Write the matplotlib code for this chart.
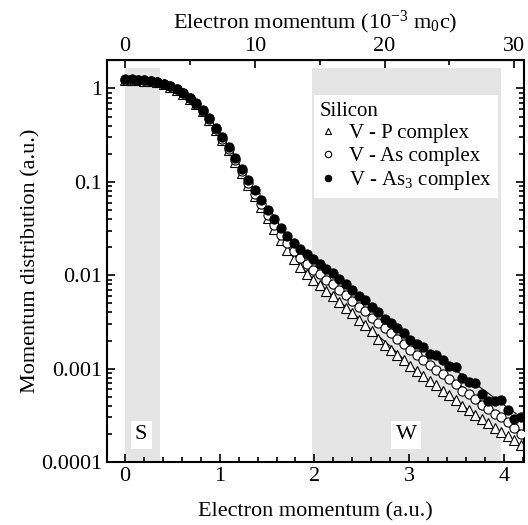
import numpy as np
import matplotlib
matplotlib.use('Agg')
import matplotlib.pyplot as plt
from matplotlib.ticker import LogLocator, NullFormatter, FixedLocator

plt.rcParams['font.family'] = ['Liberation Serif', 'DejaVu Serif']
plt.rcParams['mathtext.default'] = 'regular'

# momentum grid in units of 10^-3 m0c, converted to atomic units for the bottom axis
AU_PER_MC = 7.297  # 1 a.u. = 7.297 x 10^-3 m0c
p_mc = np.arange(0, 31, 0.5)
p_au = p_mc / AU_PER_MC

# V - As3 complex (filled circles)
v_as3 = [1.25, 1.25, 1.24, 1.23, 1.21, 1.18, 1.13, 1.07, 0.99, 0.90,
         0.80, 0.70, 0.59, 0.48, 0.38, 0.30, 0.235, 0.180, 0.138, 0.105,
         0.082, 0.064, 0.050, 0.040, 0.032, 0.0265, 0.0223, 0.0192, 0.0167, 0.0148,
         0.0132, 0.0118, 0.0105, 0.0092, 0.0080, 0.0069, 0.0060, 0.0054, 0.0046, 0.0040,
         0.0034, 0.0031, 0.0027, 0.0024, 0.00205, 0.00183, 0.00171, 0.00142, 0.00139, 0.00124,
         0.00106, 0.00103, 0.00080, 0.00072, 0.00070, 0.00053, 0.00045, 0.00045, 0.00046, 0.00036,
         0.00029, 0.00030]

# V - As complex (open circles)
v_as = [1.24, 1.24, 1.23, 1.22, 1.20, 1.17, 1.12, 1.06, 0.98, 0.89,
        0.79, 0.69, 0.58, 0.47, 0.37, 0.29, 0.226, 0.171, 0.130, 0.098,
        0.075, 0.058, 0.0445, 0.0348, 0.0272, 0.0220, 0.0181, 0.0154, 0.0132, 0.0115,
        0.0102, 0.0090, 0.0080, 0.0070, 0.0061, 0.0053, 0.0046, 0.0041, 0.0035, 0.0031,
        0.0027, 0.0024, 0.0021, 0.00183, 0.00160, 0.00141, 0.00124, 0.00109, 0.00097, 0.00087,
        0.00077, 0.00068, 0.00058, 0.00053, 0.00047, 0.00041, 0.00037, 0.00033, 0.00030, 0.00027,
        0.00023, 0.00020]

# V - P complex (open triangles)
v_p = [1.23, 1.23, 1.22, 1.21, 1.19, 1.16, 1.11, 1.05, 0.97, 0.88,
       0.78, 0.69, 0.57, 0.46, 0.36, 0.28, 0.218, 0.165, 0.124, 0.093,
       0.071, 0.054, 0.041, 0.031, 0.0238, 0.0188, 0.0150, 0.0124, 0.0104, 0.0089,
       0.0078, 0.0068, 0.0060, 0.0052, 0.0045, 0.0039, 0.0033, 0.0029, 0.0025, 0.0021,
       0.0018, 0.00160, 0.00140, 0.00123, 0.00107, 0.00094, 0.00083, 0.00074, 0.00066, 0.00058,
       0.00052, 0.00046, 0.00040, 0.00036, 0.00032, 0.00029, 0.00026, 0.00023, 0.00021, 0.00019,
       0.00017, 0.000152]

# calculated curves
calc_x = [0.0, 0.2, 0.4, 0.6, 0.8, 1.0, 1.2, 1.4, 1.6, 1.8, 2.0,
          2.2, 2.4, 2.6, 2.8, 3.0, 3.2, 3.4, 3.6, 3.8, 4.0, 4.25]
calc_as3 = [1.25, 1.23, 1.14, 0.93, 0.62, 0.33, 0.155, 0.072, 0.037, 0.0215, 0.0145,
            0.0103, 0.0071, 0.0047, 0.0031, 0.0021, 0.00148, 0.00110, 0.00081, 0.00058, 0.00041, 0.00027]
calc_as = [1.24, 1.22, 1.13, 0.92, 0.61, 0.32, 0.147, 0.066, 0.032, 0.0175, 0.0112,
           0.0079, 0.0054, 0.0036, 0.0024, 0.00162, 0.00113, 0.00083, 0.00060, 0.00042, 0.00030, 0.00019]
calc_p = [1.23, 1.21, 1.12, 0.91, 0.60, 0.31, 0.140, 0.061, 0.028, 0.0145, 0.0087,
          0.0060, 0.0040, 0.0026, 0.00175, 0.00110, 0.00076, 0.00054, 0.00038, 0.00027, 0.00019, 0.000138]

# tick positions
au_major = [0, 1, 2, 3, 4]
au_minor = [0.2, 0.4, 0.6, 0.8, 1.2, 1.4, 1.6, 1.8, 2.2, 2.4, 2.6, 2.8,
            3.2, 3.4, 3.6, 3.8, 4.2]
mc_major = [0, 10, 20, 30]
mc_minor = [5, 15, 25]
y_major = [1e-4, 1e-3, 1e-2, 1e-1, 1]
y_labels = ['0.0001', '0.001', '0.01', '0.1', '1']

fig = plt.figure(figsize=(5.28, 5.25), dpi=100)
ax = fig.add_axes([0.2027, 0.12, 0.789, 0.765])

# S and W integration windows
shade = '#e5e5e5'
ax.axvspan(0.0, 0.37, ymin=0, ymax=0.98, color=shade, lw=0, zorder=0)
ax.axvspan(1.98, 3.97, ymin=0, ymax=0.98, color=shade, lw=0, zorder=0)

for yc in (calc_p, calc_as, calc_as3):
    ax.plot(calc_x, yc, color='k', lw=0.8, zorder=1)

ms = 6.6
ax.plot(p_au, v_p, ls='none', marker='^', ms=ms, mfc='white', mec='k', mew=0.8,
        label='V - P complex', zorder=2)
ax.plot(p_au, v_as, ls='none', marker='o', ms=ms, mfc='white', mec='k', mew=0.8,
        label='V - As complex', zorder=3)
ax.plot(p_au, v_as3, ls='none', marker='o', ms=ms, mfc='k', mec='k', mew=0.8,
        label='V - As$_3$ complex', zorder=4)

ax.set_yscale('log')
ax.set_xlim(-0.19, 4.21)
ax.set_ylim(1e-4, 2)

ax.xaxis.set_major_locator(FixedLocator(au_major))
ax.xaxis.set_minor_locator(FixedLocator(au_minor))
ax.yaxis.set_major_locator(FixedLocator(y_major))
ax.yaxis.set_minor_locator(LogLocator(base=10, subs=np.arange(2, 10)))
ax.yaxis.set_minor_formatter(NullFormatter())
ax.set_yticklabels(y_labels)

ax.tick_params(which='both', direction='in', right=True, labelsize=16, width=1.2)
ax.tick_params(which='major', length=6)
ax.tick_params(which='minor', length=3.5)
for s in ax.spines.values():
    s.set_linewidth(1.5)

ax.set_xlabel('Electron momentum (a.u.)', fontsize=16, labelpad=12)
ax.set_ylabel('Momentum distribution (a.u.)', fontsize=16, labelpad=0)

# top axis in units of 10^-3 m0c
top = ax.secondary_xaxis('top', functions=(lambda x: x * AU_PER_MC, lambda x: x / AU_PER_MC))
top.xaxis.set_major_locator(FixedLocator(mc_major))
top.xaxis.set_minor_locator(FixedLocator(mc_minor))
top.tick_params(which='both', direction='in', labelsize=16, width=1.2)
top.tick_params(which='major', length=6)
top.tick_params(which='minor', length=3.5)
top.set_xlabel('Electron momentum (10$^{-3}$ m$_0$c)', fontsize=16, labelpad=6)

box = dict(facecolor='white', edgecolor='none', pad=3)
ax.text(0.17, 1.95e-4, 'S', fontsize=16, ha='center', va='center', bbox=box, zorder=5)
ax.text(2.97, 1.95e-4, 'W', fontsize=16, ha='center', va='center', bbox=box, zorder=5)

leg = ax.legend(title='Silicon', loc='upper left', bbox_to_anchor=(0.496, 0.913),
                borderaxespad=0, fontsize=15, title_fontsize=15, frameon=True,
                fancybox=False, edgecolor='none', facecolor='white', framealpha=1,
                handlelength=0.8, handletextpad=0.6, labelspacing=0.15, borderpad=0.3,
                markerscale=0.7)
leg._legend_box.align = 'left'
leg.set_zorder(6)

fig.savefig('out.png', dpi=100)
